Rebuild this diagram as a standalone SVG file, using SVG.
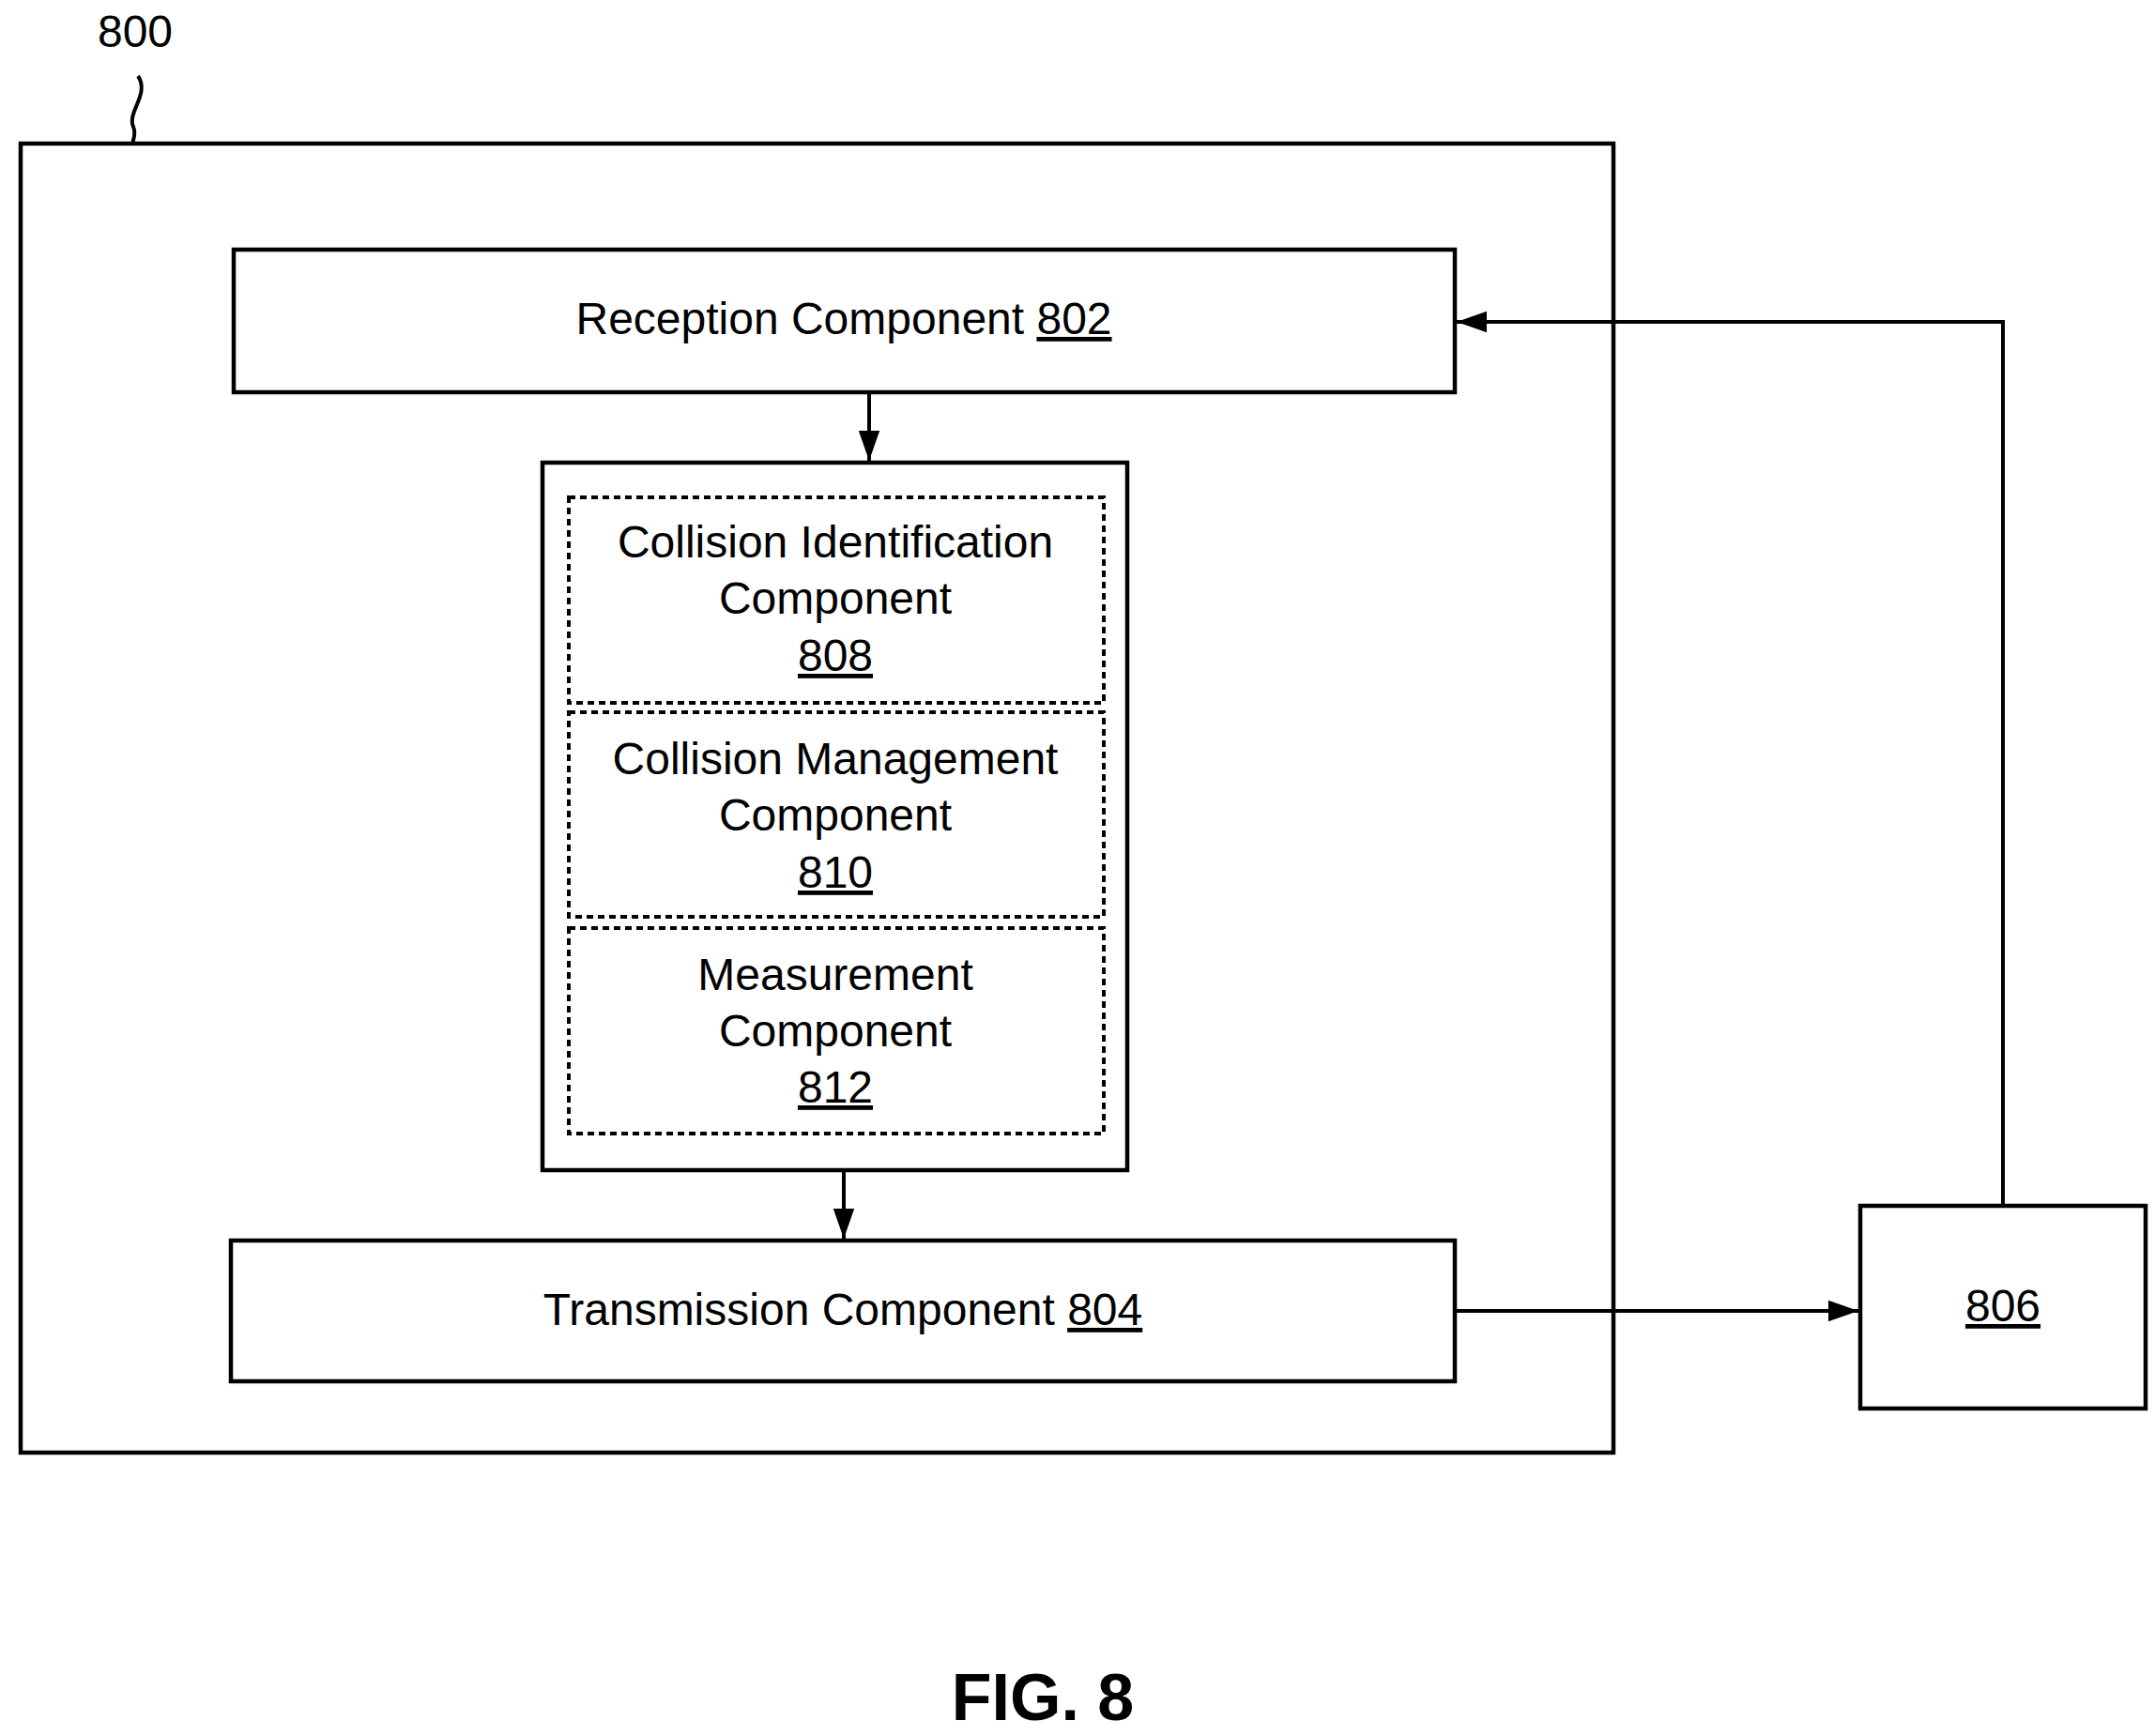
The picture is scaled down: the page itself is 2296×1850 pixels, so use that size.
<svg xmlns="http://www.w3.org/2000/svg" width="2296" height="1850" viewBox="0 0 2296 1850">
<style>
text{font-family:"Liberation Sans",Arial,sans-serif;font-size:48px;fill:#000;text-anchor:middle}
.box{fill:#fff;stroke:#000;stroke-width:4.5}
.dash{fill:none;stroke:#000;stroke-width:4;stroke-dasharray:7 5}
.ln{fill:none;stroke:#000;stroke-width:4}
</style>
<defs><marker id="ah" markerWidth="10" markerHeight="10" refX="9" refY="5" orient="auto" markerUnits="userSpaceOnUse" viewBox="0 0 10 10"><path d="M0,0 L10,5 L0,10 z" fill="#000"/></marker>
<marker id="a" viewBox="0 0 10 10" refX="10" refY="5" markerWidth="32" markerHeight="32" markerUnits="userSpaceOnUse" orient="auto"><path d="M0,1.5 L10,5 L0,8.5 z" fill="#000"/></marker></defs>
<rect width="2296" height="1850" fill="#fff"/>
<g id="n800"><text x="144" y="50">800</text><path class="ln" d="M147,81 C160,100 135,120 142,135 C146,145 140,150 142,153"/><rect class="box" x="22" y="153" width="1697" height="1395"/></g>
<g id="n802"><rect class="box" x="249" y="266" width="1301" height="152"/><text x="899" y="356">Reception Component <tspan text-decoration="underline">802</tspan></text></g>
<g id="ngroup"><rect class="box" x="578" y="493" width="623" height="754"/></g>
<g id="n808"><rect class="dash" x="606" y="530" width="570" height="219"/><text x="890" y="594">Collision Identification</text><text x="890" y="654">Component</text><text x="890" y="715" text-decoration="underline">808</text></g>
<g id="n810"><rect class="dash" x="606" y="759" width="570" height="218"/><text x="890" y="825">Collision Management</text><text x="890" y="885">Component</text><text x="890" y="946" text-decoration="underline">810</text></g>
<g id="n812"><rect class="dash" x="606" y="989" width="570" height="219"/><text x="890" y="1055">Measurement</text><text x="890" y="1115">Component</text><text x="890" y="1175" text-decoration="underline">812</text></g>
<g id="n804"><rect class="box" x="246" y="1322" width="1304" height="150"/><text x="898" y="1412">Transmission Component <tspan text-decoration="underline">804</tspan></text></g>
<g id="n806"><rect class="box" x="1982" y="1285" width="304" height="216"/><text x="2134" y="1408" text-decoration="underline">806</text></g>
<g id="connectors">
<path class="ln" d="M926,418 V491" marker-end="url(#a)"/>
<path class="ln" d="M899,1247 V1320" marker-end="url(#a)"/>
<path class="ln" d="M1550,1397 H1980" marker-end="url(#a)"/>
<path class="ln" d="M2134,1285 V343 H1552" marker-end="url(#a)"/>
</g>
<text x="1111" y="1833" style="font-size:70px;font-weight:bold">FIG. 8</text>
</svg>
